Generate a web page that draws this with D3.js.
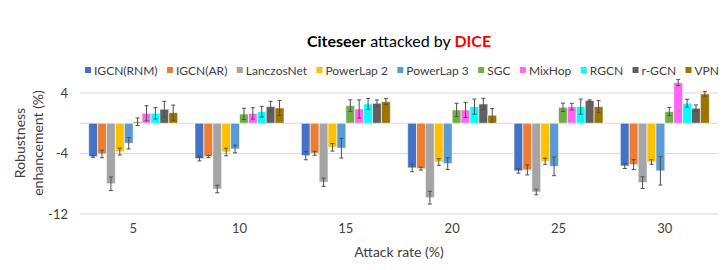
<!DOCTYPE html>
<html>

<head>
    <title>Citeseer attacked by DICE</title>
    <script src="https://d3js.org/d3.v7.min.js"></script>
    <style>
        body { margin: 0; background: #fff; }
        text { font-family: Lato, "Open Sans", sans-serif; fill: #262626; }
    </style>
</head>

<body>
    <div id="chart"></div>

    <script>
        // data
        const categories = ['5', '10', '15', '20', '25', '30'];
        const seriesNames = ['IGCN(RNM)', 'IGCN(AR)', 'LanczosNet', 'PowerLap 2', 'PowerLap 3', 'SGC', 'MixHop', 'RGCN', 'r-GCN', 'VPN'];
        const seriesColors = ['#4472C4', '#ED7D31', '#A5A5A5', '#FFC000', '#5B9BD5', '#70AD47', '#FF66F0', '#00FFFF', '#606060', '#9C7400'];
        const values = [
            [-4.4, -4.68, -4.28, -5.9, -6.3, -5.65],
            [-4.06, -4.4, -3.97, -6.0, -6.17, -5.47],
            [-8.0, -8.7, -7.8, -9.84, -9.09, -7.85],
            [-3.75, -3.8, -3.18, -5.12, -5.03, -5.12],
            [-2.65, -3.4, -3.3, -5.34, -5.7, -6.3],
            [0.2, 1.23, 2.33, 1.76, 2.11, 1.54],
            [1.32, 1.3, 1.89, 1.76, 2.2, 5.37],
            [1.32, 1.53, 2.55, 2.2, 2.2, 2.64],
            [1.85, 2.2, 2.64, 2.55, 2.99, 1.98],
            [1.4, 2.02, 2.86, 1.06, 2.2, 3.88]
        ];
        const errors = [
            [0.1, 0.3, 0.55, 0.5, 0.3, 0.33],
            [0.5, 0.15, 0.26, 0.2, 0.66, 0.66],
            [0.9, 0.5, 0.55, 0.84, 0.37, 0.77],
            [0.45, 0.5, 0.5, 0.44, 0.4, 0.3],
            [0.75, 0.5, 1.3, 0.77, 1.23, 1.87],
            [0.5, 0.75, 0.77, 0.88, 0.55, 0.55],
            [1.0, 0.75, 1.2, 1.0, 0.44, 0.4],
            [0.75, 0.7, 0.73, 1.0, 1.0, 0.53],
            [1.05, 0.7, 0.44, 0.75, 0.1, 0.44],
            [1.0, 1.0, 0.4, 0.88, 0.8, 0.3]
        ];
        const yTicks = [-12, -4, 4];

        const width = 727, height = 270;
        const plotLeft = 80, plotRight = 718, plotTop = 93, plotBottom = 214;

        const svg = d3.select('#chart').append('svg')
            .attr('width', width)
            .attr('height', height);

        const x0 = d3.scaleBand()
            .domain(categories)
            .range([plotLeft, plotRight])
            .paddingInner(0.163)
            .paddingOuter(0.0815);

        const x1 = d3.scaleBand()
            .domain(seriesNames)
            .range([0, x0.bandwidth()]);

        const y = d3.scaleLinear()
            .domain([-12, 4])
            .range([plotBottom, plotTop]);

        // gridlines + zero line
        svg.append('g')
            .selectAll('line')
            .data(yTicks.concat([0]))
            .join('line')
            .attr('x1', plotLeft).attr('x2', plotRight)
            .attr('y1', d => y(d)).attr('y2', d => y(d))
            .attr('stroke', '#d9d9d9')
            .attr('stroke-width', 1);

        // y axis labels
        const yAxis = svg.append('g')
            .attr('transform', `translate(${plotLeft - 12},0)`)
            .call(d3.axisLeft(y).tickValues(yTicks).tickSize(0).tickPadding(0).tickFormat(d3.format('d')));
        yAxis.select('.domain').remove();
        yAxis.selectAll('text')
            .style('font-size', '13px')
            .style('fill', '#404040')
            .text(d => d < 0 ? '-' + Math.abs(d) : d);

        // x axis labels
        const xAxis = svg.append('g')
            .attr('transform', `translate(0,${plotBottom + 10})`)
            .call(d3.axisBottom(x0).tickSize(0).tickPadding(0));
        xAxis.select('.domain').remove();
        xAxis.selectAll('text')
            .style('font-size', '13px')
            .style('fill', '#404040');

        // bars
        const groups = svg.append('g')
            .selectAll('g')
            .data(seriesNames)
            .join('g')
            .attr('fill', (d, i) => seriesColors[i]);

        const cells = (s, i) => categories.map((c, j) => ({ s, c, v: values[i][j], e: errors[i][j] }));

        groups.selectAll('rect')
            .data(cells)
            .join('rect')
            .attr('x', d => x0(d.c) + x1(d.s))
            .attr('width', x1.bandwidth())
            .attr('y', d => y(Math.max(0, d.v)))
            .attr('height', d => Math.abs(y(d.v) - y(0)))
            .attr('stroke', '#fff')
            .attr('stroke-opacity', 0.6)
            .attr('stroke-width', 1);

        // error bars
        const errG = groups.selectAll('g.err')
            .data(cells)
            .join('g')
            .attr('class', 'err')
            .attr('stroke', '#505050')
            .attr('stroke-width', 1);
        const cx = d => x0(d.c) + x1(d.s) + x1.bandwidth() / 2;
        errG.append('line')
            .attr('x1', cx).attr('x2', cx)
            .attr('y1', d => y(d.v - d.e)).attr('y2', d => y(d.v + d.e));
        errG.append('line')
            .attr('x1', d => cx(d) - 2).attr('x2', d => cx(d) + 2)
            .attr('y1', d => y(d.v - d.e)).attr('y2', d => y(d.v - d.e));
        errG.append('line')
            .attr('x1', d => cx(d) - 2).attr('x2', d => cx(d) + 2)
            .attr('y1', d => y(d.v + d.e)).attr('y2', d => y(d.v + d.e));

        // title
        const title = svg.append('text')
            .attr('x', (plotLeft + plotRight) / 2)
            .attr('y', 47)
            .attr('text-anchor', 'middle')
            .style('font-size', '16px');
        title.append('tspan').attr('font-weight', 'bold').style('fill', '#000').text('Citeseer');
        title.append('tspan').style('fill', '#000').text(' attacked by ');
        title.append('tspan').attr('font-weight', 'bold').style('fill', '#FF0000').text('DICE');

        // legend: spread items between x=85 and x=719
        const legendStart = 85, legendEnd = 719;
        const legend = svg.append('g').attr('transform', `translate(${legendStart},70)`);
        const items = seriesNames.map((name, i) => {
            const item = legend.append('g');
            item.append('rect')
                .attr('x', 0).attr('y', -3)
                .attr('width', 6).attr('height', 6)
                .attr('fill', seriesColors[i]);
            const t = item.append('text')
                .attr('x', 9).attr('y', 4.5)
                .style('font-size', '12px')
                .style('fill', '#404040')
                .text(name);
            return { item, w: 9 + t.node().getComputedTextLength() };
        });
        const totalW = d3.sum(items, d => d.w);
        const gap = (legendEnd - legendStart - totalW) / (items.length - 1);
        let lx = 0;
        items.forEach(d => {
            d.item.attr('transform', `translate(${lx},0)`);
            lx += d.w + gap;
        });

        // axis titles
        svg.append('text')
            .attr('x', (plotLeft + plotRight) / 2)
            .attr('y', 257)
            .attr('text-anchor', 'middle')
            .style('font-size', '14px')
            .style('fill', '#404040')
            .text('Attack rate (%)');

        const yTitle = svg.append('text')
            .attr('transform', 'translate(0,143) rotate(-90)')
            .attr('text-anchor', 'middle')
            .style('font-size', '14px')
            .style('fill', '#404040');
        yTitle.append('tspan').attr('x', 0).attr('y', 25).text('Robustness');
        yTitle.append('tspan').attr('x', 0).attr('y', 43).text('enhancement (%)');
    </script>

</body>

</html>
